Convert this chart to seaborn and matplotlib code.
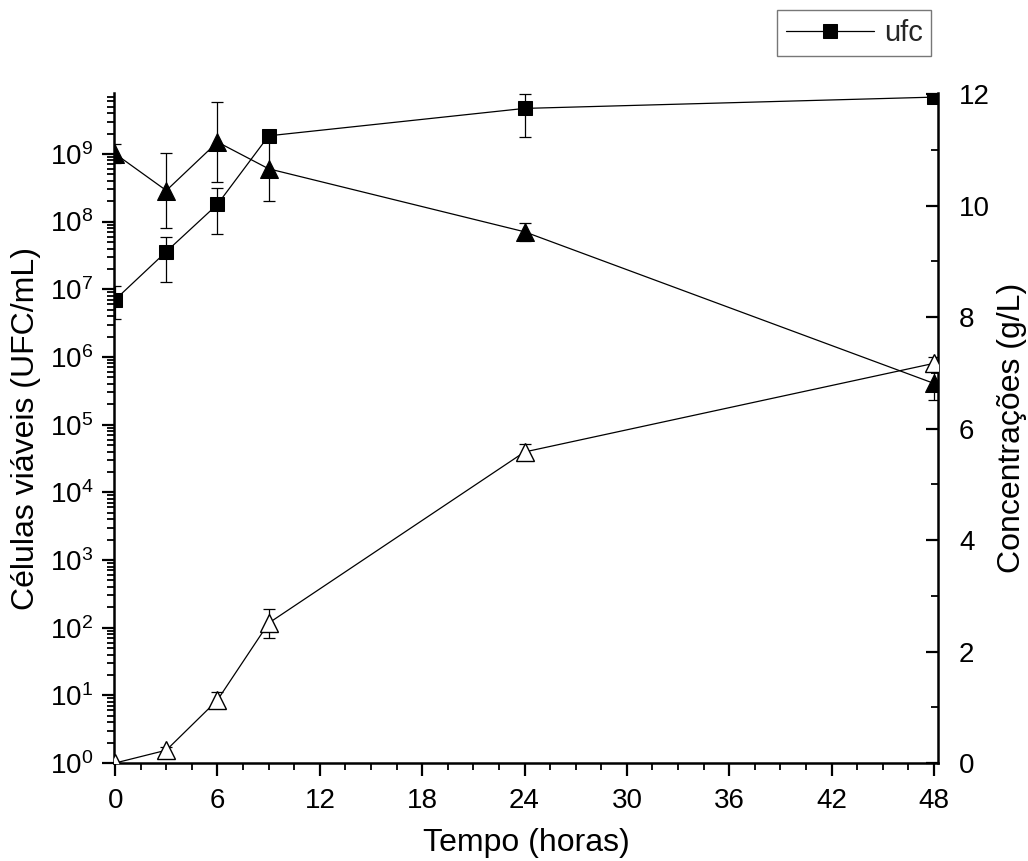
import numpy as np
import pandas as pd
import matplotlib
matplotlib.use("Agg")
import matplotlib.pyplot as plt
import seaborn as sns
from matplotlib.ticker import MultipleLocator, LogLocator, LogFormatterMathtext, NullFormatter

# ---- data ----
time = [0, 3, 6, 9, 24, 48]
ufc = [7.0e6, 3.6e7, 1.8e8, 1.85e9, 4.7e9, 6.9e9]
ufc_low = [3.6e6, 1.26e7, 6.6e7, 1.6e9, 1.8e9, 6.0e9]
ufc_high = [1.1e7, 5.9e7, 3.1e8, 2.1e9, 7.7e9, 7.8e9]
substrate = [10.93, 10.27, 11.14, 10.66, 9.53, 6.81]
substrate_err = [0.17, 0.68, 0.72, 0.58, 0.16, 0.30]
product = [0.0, 0.23, 1.13, 2.51, 5.58, 7.17]
product_err = [0.0, 0.05, 0.14, 0.26, 0.15, 0.12]
x_ticks = [0, 6, 12, 18, 24, 30, 36, 42, 48]
right_ticks = [0, 2, 4, 6, 8, 10, 12]

sns.set_theme(style="ticks")
plt.rcParams['font.family'] = ['Liberation Sans', 'DejaVu Sans']
plt.rcParams['mathtext.fontset'] = 'custom'
plt.rcParams['mathtext.rm'] = 'Liberation Sans'
plt.rcParams['mathtext.it'] = 'Liberation Sans:italic'
plt.rcParams['mathtext.bf'] = 'Liberation Sans:bold'

df = pd.DataFrame({"time": time, "ufc": ufc, "substrate": substrate, "product": product})

fig = plt.figure(figsize=(10.28, 8.61), dpi=100)
ax = fig.add_axes([0.111, 0.1138, 0.8015, 0.7782])
ax2 = ax.twinx()

lw = 0.9
# ufc on log axis
ax.errorbar(time, ufc,
            yerr=[np.array(ufc) - np.array(ufc_low), np.array(ufc_high) - np.array(ufc)],
            fmt='none', ecolor='black', elinewidth=lw, capsize=4.5, capthick=lw, zorder=2)
sns.lineplot(data=df, x="time", y="ufc", ax=ax, color='black', linewidth=lw,
             marker='s', markersize=10.5, markerfacecolor='black', markeredgecolor='black',
             label='ufc', zorder=3)

# concentrations on right axis
ax2.errorbar(time, substrate, yerr=substrate_err, fmt='none', ecolor='black',
             elinewidth=lw, capsize=4.5, capthick=lw, zorder=2)
sns.lineplot(data=df, x="time", y="substrate", ax=ax2, color='black', linewidth=lw,
             marker='^', markersize=13, markerfacecolor='black', markeredgecolor='black',
             zorder=3)
ax2.errorbar(time, product, yerr=product_err, fmt='none', ecolor='black',
             elinewidth=lw, capsize=4.5, capthick=lw, zorder=2)
sns.lineplot(data=df, x="time", y="product", ax=ax2, color='black', linewidth=lw,
             marker='^', markersize=13, markerfacecolor='white', markeredgecolor='black',
             markeredgewidth=1.0, zorder=3)

# axes config
ax.set_yscale('log')
ax.set_xlim(-0.06, 48.24)
ax.set_ylim(1, 10 ** 9.9)
ax2.set_ylim(0, 12.02)

ax.xaxis.set_minor_locator(MultipleLocator(1.5))
ax.set_xticks(x_ticks)
ax.yaxis.set_major_locator(LogLocator(base=10, numticks=20))
ax.yaxis.set_minor_locator(LogLocator(base=10, subs=np.arange(2, 10), numticks=20))
ax.yaxis.set_major_formatter(LogFormatterMathtext())
ax.yaxis.set_minor_formatter(NullFormatter())
ax2.set_yticks(right_ticks)
ax2.yaxis.set_minor_locator(MultipleLocator(1))

for s in ['top', 'right']:
    ax.spines[s].set_visible(False)
for s in ['top', 'left', 'bottom']:
    ax2.spines[s].set_visible(False)
ax.spines['left'].set_linewidth(1.8)
ax.spines['bottom'].set_linewidth(1.8)
ax2.spines['right'].set_linewidth(1.8)
for sp in list(ax.spines.values()) + list(ax2.spines.values()):
    sp.set_color('black')

ax.tick_params(axis='both', which='major', direction='out', length=9, width=1.6,
               labelsize=20, colors='black', pad=6)
ax.tick_params(axis='x', which='major', pad=9)
ax.tick_params(axis='both', which='minor', direction='out', length=5, width=1.3, colors='black')
ax2.tick_params(axis='y', which='major', direction='in', length=9, width=1.6,
                labelsize=20, colors='black', pad=15)
ax2.tick_params(axis='y', which='minor', direction='in', length=5, width=1.3, colors='black')

ax.set_xlabel("Tempo (horas)", fontsize=23, labelpad=10, color='black')
ax.set_ylabel("Células viáveis (UFC/mL)", fontsize=23, labelpad=6, color='black')
ax2.set_ylabel("Concentrações (g/L)", fontsize=23, color='black')
ax2.yaxis.set_label_coords(1.071, 0.5)

ax.grid(False)
ax2.grid(False)

handles, labels = ax.get_legend_handles_labels()
if ax.get_legend() is not None:
    ax.get_legend().remove()
if ax2.get_legend() is not None:
    ax2.get_legend().remove()
leg = fig.legend(handles, labels, loc='upper right', bbox_to_anchor=(0.906, 0.988),
                 fontsize=21, frameon=True, fancybox=False, handlelength=3.0,
                 borderpad=0.3, handletextpad=0.35, borderaxespad=0)
leg.get_frame().set_edgecolor('#555555')
leg.get_frame().set_linewidth(1.0)

fig.savefig("out.png", dpi=100)
